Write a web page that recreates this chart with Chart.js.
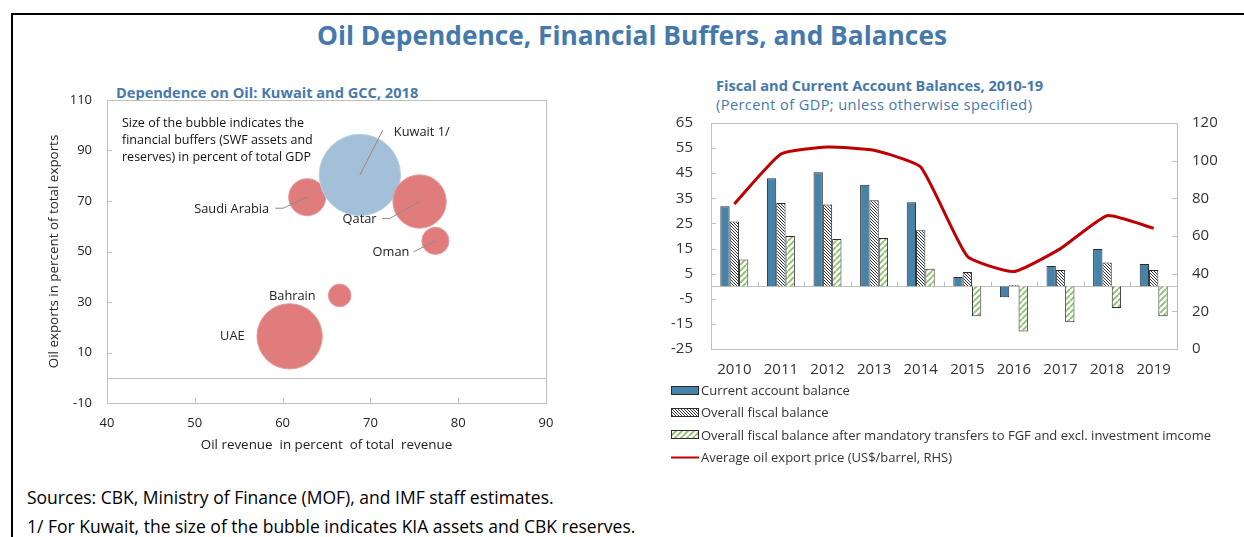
<!DOCTYPE html>
<html>
<head>
<meta charset="utf-8">
<script src="https://cdn.jsdelivr.net/npm/chart.js@4.4.1/dist/chart.umd.min.js"></script>
<style>
    body { margin: 0; background: #fff; font-family: "Open Sans", sans-serif; }
    #page { position: relative; width: 1244px; height: 537px; overflow: hidden; }
    .frame-top { position: absolute; left: 11px; top: 13px; width: 1233px; height: 2px; background: #000; }
    .frame-left { position: absolute; left: 11px; top: 13px; width: 2px; height: 530px; background: #000; }
    .main-title { position: absolute; left: 0; width: 1264px; top: 17px; text-align: center; color: #4679ab; font-weight: bold; font-size: 26.3px; }
    .sub-title { position: absolute; color: #4679ab; font-size: 14.6px; white-space: nowrap; }
    .note { position: absolute; left: 27px; font-size: 17.5px; color: #000; white-space: nowrap; }
    canvas { position: absolute; }
    #legend { position: absolute; left: 671px; top: 379px; font-size: 13px; color: #333; }
    .leg-row { height: 22.3px; display: flex; align-items: center; }
    .leg-row canvas { position: static; margin-right: 2px; }
</style>
</head>
<body>
<div id="page">
    <div class="frame-top"></div>
    <div class="frame-left"></div>
    <div class="main-title">Oil Dependence, Financial Buffers, and Balances</div>

    <div class="sub-title" style="left:116px; top:82px; font-weight:bold;">Dependence on Oil: Kuwait and GCC, 2018</div>
    <canvas id="bubbleChart" style="left:30px; top:80px;" width="540" height="375"></canvas>

    <div class="sub-title" style="left:716px; top:75px; font-weight:bold;">Fiscal and Current Account Balances, 2010-19</div>
    <div class="sub-title" style="left:716px; top:94px; letter-spacing:0.4px;">(Percent of GDP; unless otherwise specified)</div>
    <canvas id="balanceChart" style="left:650px; top:115px;" width="594" height="270"></canvas>
    <div id="legend"></div>

    <div class="note" style="top:485px;">Sources: CBK, Ministry of Finance (MOF), and IMF staff estimates.</div>
    <div class="note" style="top:514px;">1/ For Kuwait, the size of the bubble indicates KIA assets and CBK reserves.</div>
</div>
<script>
// ---- data: left chart (bubbles) ----
const countries = ['Saudi Arabia', 'Kuwait 1/', 'Qatar', 'Oman', 'Bahrain', 'UAE'];
const oilRevenueShare = [62.8, 68.8, 75.6, 77.4, 66.5, 60.8];   // x, percent of total revenue
const oilExportShare = [71.5, 80.3, 69.8, 54.2, 32.6, 16.4];    // y, percent of total exports
const financialBuffers = [86, 414, 178, 46, 32, 267];           // bubble size, percent of GDP

// ---- data: right chart ----
const years = ['2010', '2011', '2012', '2013', '2014', '2015', '2016', '2017', '2018', '2019'];
const currentAccount = [31.8, 43.0, 45.4, 40.4, 33.4, 3.7, -4.4, 8.1, 14.8, 8.8];
const fiscalBalance = [25.8, 33.1, 32.5, 34.2, 22.3, 5.7, 0.5, 6.5, 9.4, 6.5];
const fiscalAfterTransfers = [10.6, 20.0, 18.8, 19.2, 7.0, -12.0, -18.0, -14.3, -8.7, -12.0];
const oilPrice = [77.0, 103.5, 107.3, 105.5, 96.6, 49.2, 41.1, 53.3, 70.8, 64.1];

const FONT = '"Open Sans", sans-serif';
const axisGray = '#bfbfbf';
const noGrid = { display: false, drawTicks: false };

// hatch patterns for the fiscal bars
function makeHatch(lineColor, size, width, forward) {
    var c = document.createElement('canvas');
    c.width = size; c.height = size;
    var g = c.getContext('2d');
    g.fillStyle = '#fff';
    g.fillRect(0, 0, size, size);
    g.strokeStyle = lineColor;
    g.lineWidth = width;
    g.beginPath();
    for (var k = -1; k <= 1; k++) {
        if (forward) {
            g.moveTo(k * size, size); g.lineTo(k * size + size, 0);
        } else {
            g.moveTo(k * size, 0); g.lineTo(k * size + size, size);
        }
    }
    g.stroke();
    return g.createPattern(c, 'repeat');
}
var blackHatch = makeHatch('#333', 3, 1, false);
var greenHatch = makeHatch('#8cbf6a', 6, 1.8, true);

// vertical axes: fixed width and no extra label padding above/below the plot
function fixedWidth(w) {
    return function (s) {
        s.width = w;
        s.paddingTop = 0;
        s.paddingBottom = 0;
    };
}

// plot box, zero line and small inner tick marks
const frameAndTicks = {
    id: 'frameAndTicks',
    beforeDatasetsDraw(chart, args, opts) {
        const ctx = chart.ctx;
        const a = chart.chartArea;
        ctx.save();
        ctx.strokeStyle = axisGray;
        ctx.lineWidth = 1;
        ctx.strokeRect(a.left + 0.5, a.top + 0.5, a.right - a.left, a.bottom - a.top);
        const yZero = Math.round(chart.scales.y.getPixelForValue(0)) + 0.5;
        ctx.beginPath();
        ctx.moveTo(a.left, yZero); ctx.lineTo(a.right, yZero);
        // left axis ticks
        chart.scales.y.ticks.forEach(function (t) {
            const py = Math.round(chart.scales.y.getPixelForValue(t.value)) + 0.5;
            ctx.moveTo(a.left, py); ctx.lineTo(a.left + 5, py);
        });
        if (chart.scales.y2) {
            chart.scales.y2.ticks.forEach(function (t) {
                const py = Math.round(chart.scales.y2.getPixelForValue(t.value)) + 0.5;
                ctx.moveTo(a.right, py); ctx.lineTo(a.right - 5, py);
            });
        }
        if (opts.categoryTicks) {
            const xs = chart.scales.x;
            for (var i = 1; i < xs.ticks.length; i++) {
                const px = Math.round((xs.getPixelForTick(i - 1) + xs.getPixelForTick(i)) / 2) + 0.5;
                ctx.moveTo(px, yZero); ctx.lineTo(px, yZero - 5);
            }
        } else {
            chart.scales.x.ticks.forEach(function (t) {
                const px = Math.round(chart.scales.x.getPixelForValue(t.value)) + 0.5;
                ctx.moveTo(px, a.bottom); ctx.lineTo(px, a.bottom - 5);
            });
        }
        ctx.stroke();
        ctx.restore();
    }
};

// country labels with leader lines, and the size note
const bubbleLabels = {
    id: 'bubbleLabels',
    afterDatasetsDraw(chart, args, opts) {
        const ctx = chart.ctx;
        const meta = chart.getDatasetMeta(0);
        ctx.save();
        ctx.font = '12.8px ' + FONT;
        ctx.fillStyle = '#222';
        ctx.textBaseline = 'middle';
        ctx.strokeStyle = '#8c8c8c';
        ctx.lineWidth = 1;
        meta.data.forEach(function (pt, i) {
            const o = opts.offsets[i];
            if (o.line) {
                ctx.beginPath();
                ctx.moveTo(pt.x, pt.y);
                ctx.lineTo(pt.x + o.line[0], pt.y + o.line[1]);
                if (o.line2) ctx.lineTo(pt.x + o.line2[0], pt.y + o.line2[1]);
                ctx.stroke();
            }
            ctx.textAlign = o.align;
            ctx.fillText(countries[i], pt.x + o.text[0], pt.y + o.text[1]);
        });
        const a = chart.chartArea;
        ctx.textAlign = 'left';
        ctx.fillStyle = '#111';
        ctx.font = '12.5px ' + FONT;
        opts.note.forEach(function (line, i) {
            ctx.fillText(line, a.left + 15, a.top + 23 + i * 17);
        });
        ctx.restore();
    }
};

new Chart(document.getElementById('bubbleChart'), {
    type: 'bubble',
    data: {
        datasets: [{
            data: countries.map(function (c, i) {
                return { x: oilRevenueShare[i], y: oilExportShare[i], r: 2 * Math.sqrt(financialBuffers[i]) };
            }),
            backgroundColor: ['#e07c7c', '#a4bfd8', '#e07c7c', '#e07c7c', '#e07c7c', '#e07c7c'],
            borderColor: ['#e89a9a', '#b9cfe2', '#e89a9a', '#e89a9a', '#e89a9a', '#e89a9a'],
            borderWidth: 1
        }]
    },
    options: {
        responsive: false,
        animation: false,
        layout: { autoPadding: false, padding: { top: 20, right: 24 } },
        plugins: {
            legend: { display: false },
            tooltip: { enabled: false },
            frameAndTicks: {},
            bubbleLabels: {
                note: ['Size of the bubble indicates the', 'financial buffers (SWF assets and', 'reserves) in percent of total GDP'],
                offsets: [
                    { text: [-38, 12], align: 'right', line: [-24, 11], line2: [-32, 11] },
                    { text: [34, -43], align: 'left', line: [23, -45] },
                    { text: [-43, 18], align: 'right', line: [-30, 17], line2: [-37, 17] },
                    { text: [-26, 11], align: 'right', line: [-22, 11] },
                    { text: [-24, 1], align: 'right' },
                    { text: [-45, 0], align: 'right' }
                ]
            }
        },
        scales: {
            x: {
                min: 40, max: 90,
                ticks: { stepSize: 10, padding: 12, color: '#222', font: { family: FONT, size: 13 } },
                grid: noGrid,
                border: { display: false },
                title: { display: true, text: 'Oil revenue  in percent  of total  revenue', color: '#222', font: { family: FONT, size: 13.4 }, padding: { top: 0, bottom: 2 } },
                afterFit: function (s) { s.height = 52; }
            },
            y: {
                min: -10, max: 110,
                ticks: { stepSize: 20, padding: 15, color: '#222', font: { family: FONT, size: 13 } },
                grid: noGrid,
                border: { display: false },
                title: { display: true, text: 'Oil exports in percent of total exports', color: '#222', font: { family: FONT, size: 13.4 }, padding: { top: 16, bottom: 0 } },
                afterFit: fixedWidth(77)
            }
        }
    },
    plugins: [frameAndTicks, bubbleLabels]
});

const balanceChart = new Chart(document.getElementById('balanceChart'), {
    type: 'bar',
    data: {
        labels: years,
        datasets: [{
            label: 'Current account balance',
            data: currentAccount,
            backgroundColor: '#4683a8',
            borderColor: '#2b2b2b',
            borderWidth: 1,
            order: 1
        }, {
            label: 'Overall fiscal balance',
            data: fiscalBalance,
            backgroundColor: blackHatch,
            borderColor: '#2b2b2b',
            borderWidth: 1,
            order: 1
        }, {
            label: 'Overall fiscal balance after mandatory transfers to FGF and excl. investment imcome',
            data: fiscalAfterTransfers,
            backgroundColor: greenHatch,
            borderColor: '#2b2b2b',
            borderWidth: 1,
            order: 1
        }, {
            type: 'line',
            label: 'Average oil export price (US$/barrel, RHS)',
            data: oilPrice,
            yAxisID: 'y2',
            borderColor: '#c00000',
            borderWidth: 3,
            pointRadius: 0,
            tension: 0.15,
            order: 0
        }]
    },
    options: {
        responsive: false,
        animation: false,
        layout: { autoPadding: false, padding: { top: 8 } },
        datasets: { bar: { categoryPercentage: 0.6, barPercentage: 1.0 } },
        plugins: {
            legend: { display: false },
            tooltip: { enabled: false },
            frameAndTicks: { categoryTicks: true }
        },
        scales: {
            x: {
                ticks: { padding: 12, color: '#333', font: { family: FONT, size: 15 } },
                grid: noGrid,
                border: { display: false },
                afterFit: function (s) { s.height = 36; }
            },
            y: {
                min: -25, max: 65,
                ticks: { stepSize: 10, padding: 18, color: '#333', font: { family: FONT, size: 15 } },
                grid: noGrid,
                border: { display: false },
                afterFit: fixedWidth(61)
            },
            y2: {
                position: 'right',
                min: 0, max: 120,
                ticks: { stepSize: 20, padding: 15, color: '#333', font: { family: FONT, size: 15 } },
                grid: noGrid,
                border: { display: false },
                afterFit: fixedWidth(67)
            }
        }
    },
    plugins: [frameAndTicks]
});

// legend rows built from the chart's datasets
var legend = document.getElementById('legend');
balanceChart.data.datasets.forEach(function (ds) {
    var row = document.createElement('div');
    row.className = 'leg-row';
    var sw = document.createElement('canvas');
    sw.width = 28; sw.height = 9;
    var g = sw.getContext('2d');
    if (ds.type === 'line') {
        g.strokeStyle = ds.borderColor;
        g.lineWidth = 2;
        g.beginPath(); g.moveTo(0, 4.5); g.lineTo(28, 4.5); g.stroke();
    } else {
        g.fillStyle = ds.backgroundColor;
        g.fillRect(1, 1, 26, 7);
        g.strokeStyle = '#2b2b2b';
        g.lineWidth = 1;
        g.strokeRect(0.5, 0.5, 27, 8);
    }
    row.appendChild(sw);
    var txt = document.createElement('span');
    txt.textContent = ds.label;
    row.appendChild(txt);
    legend.appendChild(row);
});
</script>
</body>
</html>
